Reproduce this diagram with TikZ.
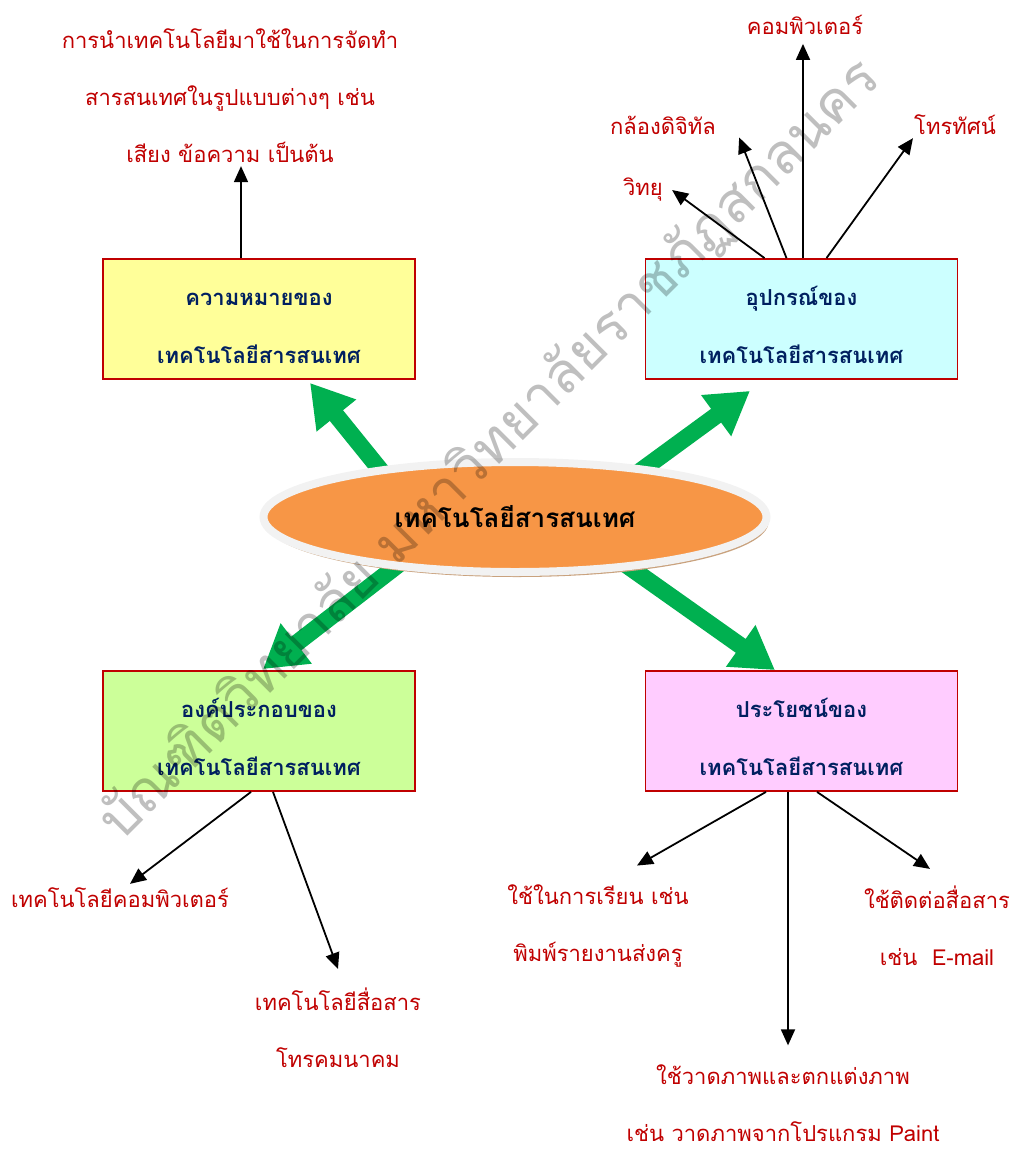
\documentclass[tikz,border=0pt]{standalone}
\usepackage{fontspec}
\newfontfamily\thaifont[Script=Thai]{Loma}
\usetikzlibrary{arrows.meta,shapes.geometric,shadows,backgrounds}
\definecolor{boxred}{HTML}{C00000}
\definecolor{navy}{HTML}{002060}
\definecolor{fatgreen}{HTML}{00B050}
\definecolor{coreorange}{HTML}{F79646}
\definecolor{rimgray}{HTML}{F2F2F2}
\definecolor{rimtan}{HTML}{C9A27E}
\definecolor{meanfill}{HTML}{FFFF99}
\definecolor{devfill}{HTML}{CCFFFF}
\definecolor{compfill}{HTML}{CCFF99}
\definecolor{usefill}{HTML}{FFCCFF}
\newcommand\boxtop{\rule{0pt}{32pt}}

\begin{document}
\begin{tikzpicture}[x=1pt, y=-1pt,
    box/.style={draw=boxred, line width=1.8pt, minimum width=312pt, minimum height=120pt,
        align=center, text=navy, font=\thaifont\bfseries\fontsize{22}{58}\selectfont},
    note/.style={text=boxred, align=center, inner sep=1pt, font=\thaifont\fontsize{22}{57}\selectfont},
    link/.style={-{Triangle[length=16pt,width=14pt]}, line width=1.8pt},
    bigarrow/.style={draw=fatgreen, line width=17pt, shorten <=-25pt,
        -{Triangle[length=42pt,width=48pt]}}]
    \useasboundingbox (0,0) rectangle (1019,1149);

    \node[box, fill=meanfill] (mean) at (259,319) {\boxtop ความหมายของ\\เทคโนโลยีสารสนเทศ};
    \node[box, fill=devfill] (dev) at (801.5,319) {\boxtop อุปกรณ์ของ\\เทคโนโลยีสารสนเทศ};
    \node[box, fill=compfill] (comp) at (259,731) {\boxtop องค์ประกอบของ\\เทคโนโลยีสารสนเทศ};
    \node[box, fill=usefill] (use) at (801.5,731) {\boxtop ประโยชน์ของ\\เทคโนโลยีสารสนเทศ};

    \node[ellipse, draw=rimgray, line width=8pt, fill=coreorange, minimum width=503pt, minimum height=110pt,
        drop shadow={fill=rimtan, opacity=1, shadow xshift=2pt, shadow yshift=-5pt},
        font=\thaifont\bfseries\fontsize{26}{26}\selectfont] (core) at (515,517) {เทคโนโลยีสารสนเทศ};

    \begin{scope}[on background layer]
        \draw[bigarrow] (core.160) -- ([xshift=51pt,yshift=-3pt]mean.south);
        \draw[bigarrow] (core.21) -- ([xshift=-51.5pt,yshift=-11pt]dev.south);
        \draw[bigarrow] (core.203) -- ([xshift=4pt,yshift=1pt]comp.north);
        \draw[bigarrow] (core.336) -- ([xshift=-26.5pt]use.north);
    \end{scope}

    \node[note] (meantxt) at (230,96) {การนำเทคโนโลยีมาใช้ในการจัดทำ\\สารสนเทศในรูปแบบต่างๆ เช่น\\เสียง ข้อความ เป็นต้น};
    \draw[link] ([xshift=-18pt]mean.north) -- ([xshift=-18pt,yshift=-2pt]mean.north |- meantxt.south);

    \node[note] (radio) at (643,190) {วิทยุ};
    \node[note] (camera) at (663,125) {กล้องดิจิทัล};
    \node[note] (pc) at (805,25) {คอมพิวเตอร์};
    \node[note] (tv) at (955,125) {โทรทัศน์};
    \draw[link] ([xshift=-37pt]dev.north) -- ([xshift=8pt]radio.east);
    \draw[link] ([xshift=-15pt]dev.north) -- ([xshift=22pt,yshift=-2pt]camera.south east);
    \draw[link] ([xshift=1.5pt]dev.north) -- ([xshift=1.5pt,yshift=-8pt]dev.north |- pc.south);
    \draw[link] ([xshift=25pt]dev.north) -- ([xshift=0pt,yshift=-2pt]tv.south west);

    \node[note] (pctech) at (120,898) {เทคโนโลยีคอมพิวเตอร์};
    \node[note] (telecom) at (338,1028) {เทคโนโลยีสื่อสาร\\โทรคมนาคม};
    \draw[link] ([xshift=-8pt]comp.south) -- ([xshift=10pt,yshift=3pt]pctech.north);
    \draw[link] ([xshift=14pt]comp.south) -- ([yshift=18pt]telecom.north);

    \node[note] (study) at (598,926) {ใช้ในการเรียน เช่น\\พิมพ์รายงานส่งครู};
    \node[note] (paint) at (783,1103) {ใช้วาดภาพและตกแต่งภาพ\\เช่น วาดภาพจากโปรแกรม Paint};
    \node[note] (contact) at (937,926) {ใช้ติดต่อสื่อสาร\\เช่น\ \ E-mail};
    \draw[link] ([xshift=-35.5pt]use.south) -- ([xshift=39pt,yshift=18pt]study.north);
    \draw[link] ([xshift=-13.5pt]use.south) -- ([xshift=-13.5pt,yshift=18pt]use.south |- paint.north);
    \draw[link] ([xshift=15.5pt]use.south) -- ([xshift=-7pt,yshift=16pt]contact.north);

    \node[rotate=45, text=black, text opacity=0.25, font=\thaifont\fontsize{56}{56}\selectfont]
        (mark) at (490,450) {บัณฑิตวิทยาลัย มหาวิทยาลัยราชภัฏสกลนคร};
\end{tikzpicture}
\end{document}
